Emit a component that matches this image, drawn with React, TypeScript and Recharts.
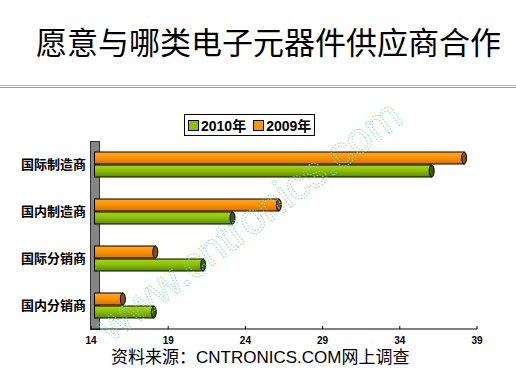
import React from 'react';
import { BarChart, Bar, XAxis, YAxis } from 'recharts';

const categories = ['国际制造商', '国内制造商', '国际分销商', '国内分销商'];
const values2010 = [36.0, 23.1, 21.2, 18.0];
const values2009 = [38.1, 26.1, 18.1, 16.0];
const xTicks = [14, 19, 24, 29, 34, 39];

const data = categories.map((name, i) => ({
  name,
  y2010: values2010[i],
  y2009: values2009[i],
}));

const makeShape = (id: string, top: string, mid: string, bottom: string, cap: string) => (props: any) => {
  const { x, y, width, height } = props;
  if (width == null || width <= 0) return null;
  const d = 3.5;
  const rx = 2.5;
  const x0 = x + d;
  const cx = x + width + d - rx;
  return (
    <g>
      <defs>
        <linearGradient id={id} x1="0" y1="0" x2="0" y2="1">
          <stop offset="0%" stopColor={top} />
          <stop offset="45%" stopColor={mid} />
          <stop offset="100%" stopColor={bottom} />
        </linearGradient>
      </defs>
      <rect x={x0} y={y} width={Math.max(cx - x0, 0)} height={height} fill={`url(#${id})`} stroke="#000" strokeWidth={1} />
      <ellipse cx={cx} cy={y + height / 2} rx={rx} ry={height / 2} fill={cap} stroke="#000" strokeWidth={1} />
    </g>
  );
};

const orangeShape = makeShape('gOrange', '#FFA726', '#FF9400', '#D97000', '#7A5418');
const greenShape = makeShape('gGreen', '#A6D81A', '#8CC000', '#5E8A00', '#3F5A08');

const XTick = (props: any) => {
  const { x, y, payload } = props;
  return (
    <g>
      <line x1={x} x2={x} y1={y - 3} y2={y} stroke="#000" strokeWidth={1} />
      <text x={x} y={y + 15} textAnchor="middle" fontSize={10} fontWeight="bold" fontFamily="'Liberation Sans', Arial, sans-serif" fill="#000">
        {payload.value}
      </text>
    </g>
  );
};

const App = () => {
  return (
    <div style={{ position: 'absolute', left: 0, top: 0, width: 516, height: 384, background: '#fff', overflow: 'hidden' }}>
      <div style={{ position: 'absolute', left: 36, top: 25, fontSize: 31, lineHeight: 1, fontFamily: "'Noto Sans CJK SC', sans-serif", color: '#000', whiteSpace: 'nowrap' }}>
        愿意与哪类电子元器件供应商合作
      </div>
      <div style={{ position: 'absolute', left: 0, top: 85, width: 516, height: 1, background: '#D8C020' }} />
      <div style={{ position: 'absolute', left: 0, top: 87, width: 516, height: 1, background: '#C0A800' }} />

      <div style={{ position: 'absolute', left: 90, top: 141, width: 8, height: 187, background: '#858585', border: '1px solid #333' }} />

      <div style={{ position: 'absolute', left: 0, top: 0 }}>
        <BarChart
          width={516}
          height={384}
          data={data}
          layout="vertical"
          margin={{ top: 141, right: 39, left: 11, bottom: 25 }}
          barSize={12}
          barGap={1}
        >
          <XAxis
            type="number"
            domain={[14, 39]}
            ticks={xTicks}
            allowDataOverflow
            axisLine={{ stroke: '#000', strokeWidth: 1 }}
            tickLine={false}
            tickSize={0}
            tickMargin={0}
            height={30}
            tick={<XTick />}
          />
          <YAxis
            type="category"
            dataKey="name"
            width={80}
            axisLine={false}
            tickLine={false}
            tickSize={0}
            tickMargin={5}
            tick={{ fontSize: 13, fontWeight: 'bold', fill: '#000', fontFamily: "'Noto Sans CJK SC', sans-serif" }}
          />
          <Bar dataKey="y2009" name="2009年" fill="#FF9400" shape={orangeShape} isAnimationActive={false} />
          <Bar dataKey="y2010" name="2010年" fill="#8CC000" shape={greenShape} isAnimationActive={false} />
        </BarChart>
      </div>

      <div style={{ position: 'absolute', left: 184, top: 114, width: 131, height: 22, border: '1px solid #000', background: '#fff', boxSizing: 'border-box', fontFamily: "'Liberation Sans', 'Noto Sans CJK SC', sans-serif", fontWeight: 'bold', fontSize: 14, display: 'flex', alignItems: 'center', paddingLeft: 3, whiteSpace: 'nowrap' }}>
        <span style={{ display: 'inline-block', width: 9, height: 9, background: '#8CC000', border: '1px solid #000', marginRight: 2 }} />
        <span style={{ marginRight: 7 }}>2010年</span>
        <span style={{ display: 'inline-block', width: 9, height: 9, background: '#FF9400', border: '1px solid #000', marginRight: 2 }} />
        <span>2009年</span>
      </div>

      <svg width={516} height={384} style={{ position: 'absolute', left: 0, top: 0, pointerEvents: 'none' }}>
        <text
          x={250}
          y={235}
          textAnchor="middle"
          fontSize={43}
          fontFamily="'Liberation Sans', Arial, sans-serif"
          fill="none"
          stroke="#7FD8A4"
          strokeWidth={0.9}
          strokeDasharray="1.5 1.5"
          transform="rotate(-37 250 222)"
        >
          www.cntronics.com
        </text>
      </svg>

      <div style={{ position: 'absolute', left: 111, top: 349, fontSize: 17, lineHeight: 1, fontFamily: "'Liberation Sans', 'Noto Sans CJK SC', sans-serif", color: '#000', whiteSpace: 'nowrap' }}>
        资料来源：CNTRONICS.COM网上调查
      </div>
    </div>
  );
};

export default App;
